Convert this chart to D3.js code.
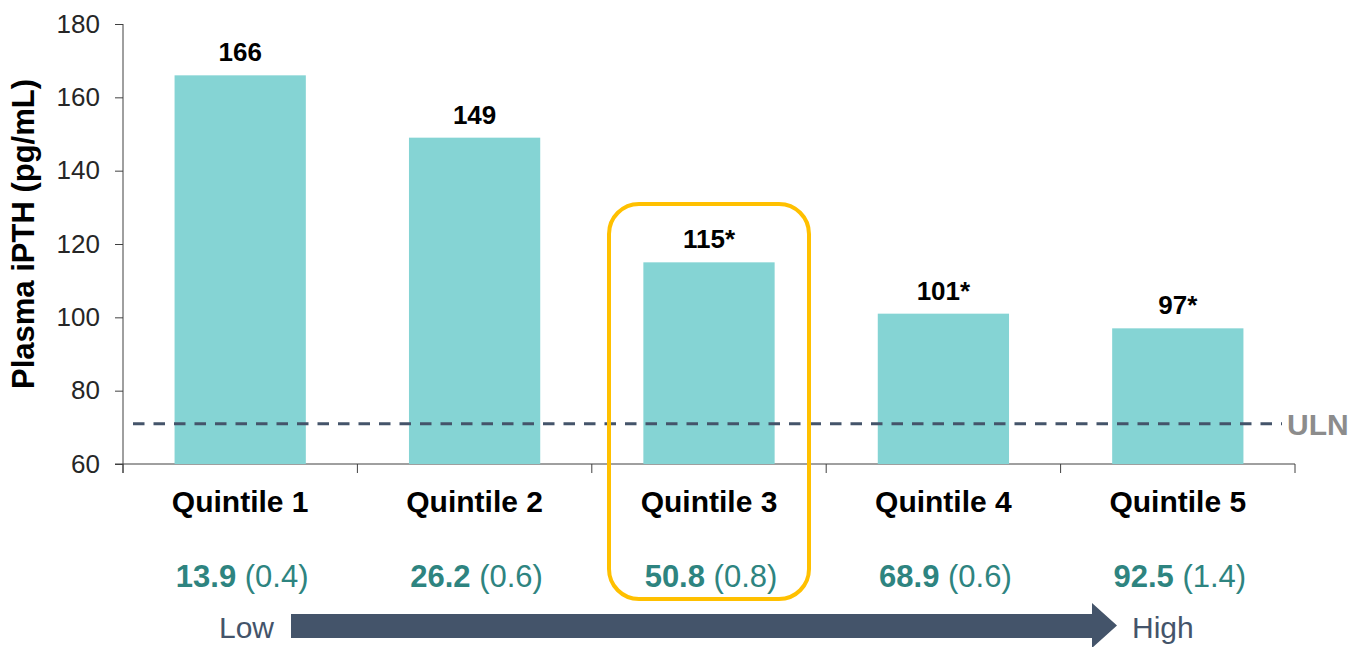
<!DOCTYPE html>
<html>
<head>
<meta charset="utf-8">
<script src="https://cdn.jsdelivr.net/npm/d3@7"></script>
<style>
  html, body { margin: 0; padding: 0; background: #fff; }
  svg { display: block; font-family: "Liberation Sans", Arial, sans-serif; }
</style>
</head>
<body>
<div id="chart"></div>
<script>
// chart data
const categories = ["Quintile 1", "Quintile 2", "Quintile 3", "Quintile 4", "Quintile 5"];
const iPTH = [166, 149, 115, 101, 97];
const valueLabels = ["166", "149", "115*", "101*", "97*"];
const means = ["13.9", "26.2", "50.8", "68.9", "92.5"];
const sems = ["(0.4)", "(0.6)", "(0.8)", "(0.6)", "(1.4)"];
const yTicks = [60, 80, 100, 120, 140, 160, 180];
const uln = 71;
const highlighted = "Quintile 3";

const width = 1360;
const height = 647;
const barColor = "#85d4d4";
const teal = "#2e8480";
const slate = "#44546a";

const svg = d3.select("#chart")
    .append("svg")
    .attr("width", width)
    .attr("height", height);

const x = d3.scaleBand()
    .domain(categories)
    .range([123, 1295])
    .paddingInner(0.44)
    .paddingOuter(0.22);

const y = d3.scaleLinear()
    .domain([60, 180])
    .range([464, 24]);

// y axis
const gy = svg.append("g")
    .attr("transform", "translate(123,0)")
    .call(d3.axisLeft(y).tickValues(yTicks).tickSize(8).tickPadding(15).tickSizeOuter(0))
    .call(g => g.select(".domain").remove());
gy.selectAll(".tick line").attr("stroke", "#404040");
gy.selectAll(".tick text")
    .attr("font-size", 26)
    .attr("fill", "#262626")
    .attr("font-family", "Liberation Sans, Arial, sans-serif");

svg.append("line")
    .attr("x1", 123).attr("x2", 123)
    .attr("y1", y(180)).attr("y2", y(60) + 9)
    .attr("stroke", "#404040");

// x axis with ticks at band edges
svg.append("line")
    .attr("x1", 115).attr("x2", x.range()[1])
    .attr("y1", y(60)).attr("y2", y(60))
    .attr("stroke", "#404040");

const edges = categories.map(c => x(c) - x.step() * x.paddingInner() / 2);
edges[0] = x.range()[0];
edges.push(x.range()[1]);
svg.append("g")
    .selectAll("line")
    .data(edges)
    .join("line")
    .attr("x1", d => d).attr("x2", d => d)
    .attr("y1", y(60)).attr("y2", y(60) + 9)
    .attr("stroke", "#404040");

// y axis title
svg.append("text")
    .attr("transform", "translate(34,234) rotate(-90)")
    .attr("text-anchor", "middle")
    .attr("font-size", 31)
    .attr("font-weight", "bold")
    .attr("fill", "#000")
    .text("Plasma iPTH (pg/mL)");

// bars
svg.append("g")
    .selectAll("rect")
    .data(categories)
    .join("rect")
    .attr("x", d => x(d))
    .attr("y", (d, i) => y(iPTH[i]))
    .attr("width", x.bandwidth())
    .attr("height", (d, i) => y(60) - y(iPTH[i]))
    .attr("fill", barColor);

// value labels above bars
svg.append("g")
    .selectAll("text")
    .data(categories)
    .join("text")
    .attr("x", d => x(d) + x.bandwidth() / 2)
    .attr("y", (d, i) => y(iPTH[i]) - 14)
    .attr("text-anchor", "middle")
    .attr("font-size", 26)
    .attr("font-weight", "bold")
    .attr("fill", "#000")
    .text((d, i) => valueLabels[i]);

// ULN line
svg.append("line")
    .attr("x1", 133).attr("x2", 1282)
    .attr("y1", y(uln)).attr("y2", y(uln))
    .attr("stroke", slate)
    .attr("stroke-width", 3)
    .attr("stroke-dasharray", "11.5,9");

svg.append("text")
    .attr("x", 1287)
    .attr("y", y(uln) + 11)
    .attr("font-size", 30)
    .attr("font-weight", "bold")
    .attr("fill", "#8c8c8c")
    .text("ULN");

// category labels
svg.append("g")
    .selectAll("text")
    .data(categories)
    .join("text")
    .attr("x", d => x(d) + x.bandwidth() / 2)
    .attr("y", 512)
    .attr("text-anchor", "middle")
    .attr("font-size", 30)
    .attr("font-weight", "bold")
    .attr("fill", "#000")
    .text(d => d);

// mean (SEM) row
const meanText = svg.append("g")
    .selectAll("text")
    .data(categories)
    .join("text")
    .attr("x", d => x(d) + x.bandwidth() / 2 + 2)
    .attr("y", 587)
    .attr("text-anchor", "middle")
    .attr("font-size", 31)
    .attr("fill", teal);
meanText.append("tspan")
    .attr("font-weight", "bold")
    .text((d, i) => means[i]);
meanText.append("tspan")
    .text((d, i) => " " + sems[i]);

// highlight box round Quintile 3
svg.append("rect")
    .attr("x", x(highlighted) + x.bandwidth() / 2 - 100)
    .attr("y", 204)
    .attr("width", 200)
    .attr("height", 395)
    .attr("rx", 30)
    .attr("fill", "none")
    .attr("stroke", "#ffc000")
    .attr("stroke-width", 4);

// Low -> High arrow
svg.append("path")
    .attr("d", "M291,614 L1092,614 L1092,603 L1117,625.5 L1092,648 L1092,638 L291,638 Z")
    .attr("fill", slate);

svg.append("text")
    .attr("x", 219).attr("y", 638)
    .attr("font-size", 30)
    .attr("fill", slate)
    .text("Low");

svg.append("text")
    .attr("x", 1132).attr("y", 638)
    .attr("font-size", 30)
    .attr("fill", slate)
    .text("High");
</script>
</body>
</html>
